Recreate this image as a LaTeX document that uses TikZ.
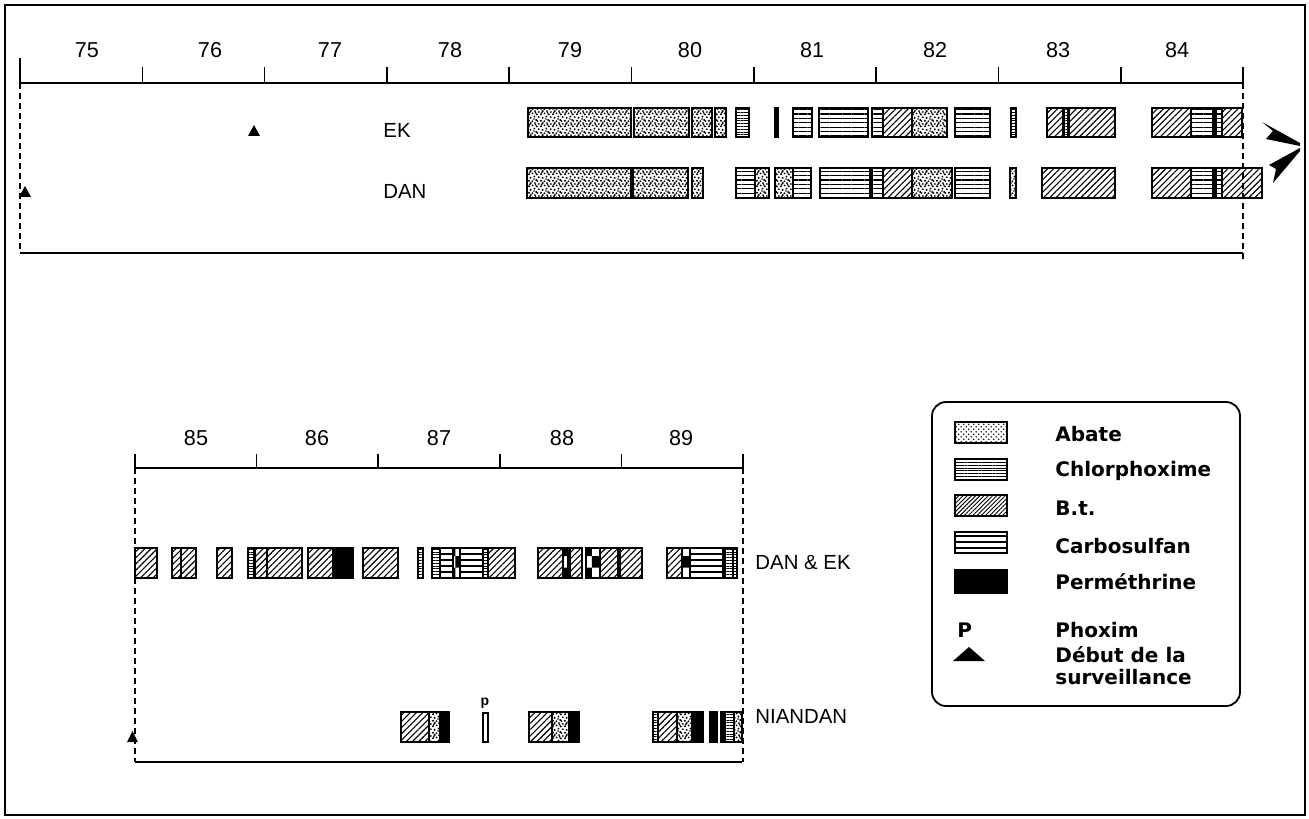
\documentclass[tikz,border=0pt]{standalone}
\usepackage{fontspec}
\setmainfont{Liberation Sans}
\newfontfamily\legfont{DejaVu Sans}
\usetikzlibrary{patterns,patterns.meta}
\pgfdeclarepatternformonly{stipple}{\pgfpoint{-0.5pt}{-0.5pt}}{\pgfpoint{6.5pt}{6.5pt}}{\pgfpoint{6pt}{6pt}}{%
  \pgfpathcircle{\pgfpoint{0.5pt}{0.6pt}}{0.55pt}
  \pgfpathcircle{\pgfpoint{2.2pt}{0.4pt}}{0.5pt}
  \pgfpathcircle{\pgfpoint{4.1pt}{1.0pt}}{0.55pt}
  \pgfpathcircle{\pgfpoint{5.4pt}{2.4pt}}{0.5pt}
  \pgfpathcircle{\pgfpoint{1.3pt}{2.1pt}}{0.55pt}
  \pgfpathcircle{\pgfpoint{3.2pt}{2.7pt}}{0.5pt}
  \pgfpathcircle{\pgfpoint{0.5pt}{3.9pt}}{0.55pt}
  \pgfpathcircle{\pgfpoint{2.3pt}{4.3pt}}{0.5pt}
  \pgfpathcircle{\pgfpoint{4.4pt}{3.8pt}}{0.55pt}
  \pgfpathcircle{\pgfpoint{5.4pt}{5.0pt}}{0.5pt}
  \pgfpathcircle{\pgfpoint{1.4pt}{5.5pt}}{0.55pt}
  \pgfpathcircle{\pgfpoint{3.5pt}{5.4pt}}{0.5pt}
  \pgfpathcircle{\pgfpoint{3.0pt}{1.5pt}}{0.45pt}
  \pgfpathcircle{\pgfpoint{4.8pt}{0.4pt}}{0.45pt}
  \pgfpathcircle{\pgfpoint{0.9pt}{4.8pt}}{0.45pt}
  \pgfpathcircle{\pgfpoint{3.8pt}{4.6pt}}{0.45pt}
  \pgfusepath{fill}}
\pgfdeclarepatternformonly{finedots}{\pgfpoint{-0.5pt}{-0.5pt}}{\pgfpoint{3pt}{3pt}}{\pgfpoint{2.5pt}{2.5pt}}{%
  \pgfpathcircle{\pgfpoint{0.6pt}{0.6pt}}{0.4pt}
  \pgfpathcircle{\pgfpoint{1.85pt}{1.85pt}}{0.4pt}
  \pgfusepath{fill}}
\tikzset{
  barbox/.style={draw, line width=0.7pt},
  abate/.style={barbox, pattern=stipple},
  legabate/.style={barbox, pattern=finedots},
  chlor/.style={barbox, pattern={Lines[angle=0,distance=2.2pt,line width=0.6pt]}},
  dchlor/.style={barbox, pattern={Lines[angle=0,distance=1.4pt,line width=0.45pt]}},
  btpat/.style={barbox, pattern={Lines[angle=45,distance=2.2pt,line width=0.55pt]}},
  legbt/.style={barbox, pattern={Lines[angle=45,distance=1.5pt,line width=0.45pt]}},
  carbo/.style={barbox, pattern={Lines[angle=0,distance=3pt,line width=1.1pt]}},
  perm/.style={barbox, fill=black},
  checker/.style={barbox, pattern=checkerboard},
  axis/.style={line width=0.8pt},
  dashline/.style={line width=0.8pt, dash pattern=on 3pt off 2pt},
  yr/.style={font=\fontsize{10.8}{12}\selectfont, inner sep=0pt},
  lab/.style={font=\fontsize{10.2}{12}\selectfont, inner sep=0pt, anchor=west},
  leg/.style={font=\legfont\fontsize{10}{12}\selectfont\bfseries, inner sep=0pt, anchor=west},
}
\begin{document}
\begin{tikzpicture}[x=0.5pt,y=-0.5pt]
\useasboundingbox (0,0) rectangle (1309,818);
% outer frame
\draw[line width=1.2pt] (5,5) rectangle (1305,815);

% ---------------- top panel ----------------
\draw[axis] (20,83) -- (1243,83);
\draw[axis] (20,58) -- (20,83);
\foreach \k in {1,...,10} \draw[axis] ({20+122.3*\k},67) -- ({20+122.3*\k},83);
\node[yr] (y75) at (87,50) {75};
\node[yr] (y76) at (210,50) {76};
\node[yr] (y77) at (330,50) {77};
\node[yr] (y78) at (450,50) {78};
\node[yr] (y79) at (570,50) {79};
\node[yr] (y80) at (690,50) {80};
\node[yr] (y81) at (812,50) {81};
\node[yr] (y82) at (935,50) {82};
\node[yr] (y83) at (1058,50) {83};
\node[yr] (y84) at (1177,50) {84};
\draw[dashline] (20,83) -- (20,253);
\draw[axis] (20,253) -- (1243,253);
\draw[dashline] (1243,83) -- (1243,262);

\node[lab] (ek) at (383,130) {EK};
\node[lab] (dan) at (383,191) {DAN};
\fill (248,136) -- (260,136) -- (254,125) -- cycle;
\fill (19,197) -- (31,197) -- (25,186) -- cycle;

% EK row
\def\ta{108}\def\tb{137}
\draw[abate] (528,\ta) rectangle (631,\tb);
\draw[abate] (634,\ta) rectangle (689,\tb);
\draw[abate] (692,\ta) rectangle (712,\tb);
\draw[abate] (715,\ta) rectangle (726,\tb);
\draw[dchlor] (736,\ta) rectangle (749,\tb);
\draw[perm] (775,\ta) rectangle (778,\tb);
\draw[chlor] (793,\ta) rectangle (812,\tb);
\draw[chlor] (819,\ta) rectangle (868,\tb);
\draw[chlor] (872,\ta) rectangle (883,\tb);
\draw[btpat] (883,\ta) rectangle (912,\tb);
\draw[abate] (912,\ta) rectangle (947,\tb);
\draw[chlor] (955,\ta) rectangle (990,\tb);
\draw[dchlor] (1011,\ta) rectangle (1016,\tb);
\draw[btpat] (1047,\ta) rectangle (1063,\tb);
\draw[dchlor] (1064,\ta) rectangle (1068,\tb);
\draw[btpat] (1069,\ta) rectangle (1115,\tb);
\draw[btpat] (1152,\ta) rectangle (1191,\tb);
\draw[chlor] (1191,\ta) rectangle (1213,\tb);
\draw[perm] (1213,\ta) rectangle (1216,\tb);
\draw[chlor] (1216,\ta) rectangle (1222,\tb);
\draw[btpat] (1222,\ta) rectangle (1242,\tb);

% DAN row
\def\da{168}\def\db{198}
\draw[abate] (527,\da) rectangle (631,\db);
\draw[abate] (633,\da) rectangle (688,\db);
\draw[abate] (692,\da) rectangle (703,\db);
\draw[chlor] (736,\da) rectangle (755,\db);
\draw[abate] (755,\da) rectangle (769,\db);
\draw[abate] (775,\da) rectangle (793,\db);
\draw[chlor] (793,\da) rectangle (811,\db);
\draw[chlor] (820,\da) rectangle (870,\db);
\draw[chlor] (872,\da) rectangle (883,\db);
\draw[btpat] (883,\da) rectangle (912,\db);
\draw[abate] (912,\da) rectangle (952,\db);
\draw[chlor] (955,\da) rectangle (990,\db);
\draw[abate] (1010,\da) rectangle (1016,\db);
\draw[btpat] (1042,\da) rectangle (1115,\db);
\draw[btpat] (1152,\da) rectangle (1191,\db);
\draw[chlor] (1191,\da) rectangle (1213,\db);
\draw[perm] (1213,\da) rectangle (1216,\db);
\draw[chlor] (1216,\da) rectangle (1222,\db);
\draw[btpat] (1222,\da) rectangle (1262,\db);

% chevron
\fill (1262,122) -- (1300,143) -- (1300,146) -- (1266,139) -- (1273,131) -- cycle;
\fill (1300,148) -- (1300,151) -- (1273,183) -- (1276,169) -- (1269,165) -- cycle;

% ---------------- lower panel ----------------
\draw[axis] (135,468) -- (743,468);
\foreach \k in {0,...,5} \draw[axis] ({135+121.6*\k},454) -- ({135+121.6*\k},468);
\node[yr] (y85) at (196,438) {85};
\node[yr] (y86) at (317,438) {86};
\node[yr] (y87) at (439,438) {87};
\node[yr] (y88) at (562,438) {88};
\node[yr] (y89) at (681,438) {89};
\draw[dashline] (135,468) -- (135,762);
\draw[axis] (135,762) -- (742,762);
\draw[dashline] (743,468) -- (743,762);

\node[lab] (danek) at (755,563) {DAN \& EK};
\node[lab] (niandan) at (755,716) {NIANDAN};
\fill (127,742) -- (138,742) -- (132.5,731) -- cycle;

% DAN & EK row
\def\la{548}\def\lb{578}
\draw[btpat] (135,\la) rectangle (157,\lb);
\draw[btpat] (172,\la) rectangle (181,\lb);
\draw[btpat] (181,\la) rectangle (196,\lb);
\draw[btpat] (217,\la) rectangle (232,\lb);
\draw[dchlor] (248,\la) rectangle (254,\lb);
\draw[btpat] (255,\la) rectangle (267,\lb);
\draw[btpat] (267,\la) rectangle (302,\lb);
\draw[btpat] (308,\la) rectangle (333,\lb);
\draw[perm] (333,\la) rectangle (353,\lb);
\draw[btpat] (363,\la) rectangle (398,\lb);
\draw[dchlor] (418,\la) rectangle (423,\lb);
\draw[dchlor] (432,\la) rectangle (440,\lb);
\draw[carbo] (440,\la) rectangle (453,\lb);
\draw[checker] (453,\la) rectangle (460,\lb);
\draw[carbo] (460,\la) rectangle (483,\lb);
\draw[dchlor] (483,\la) rectangle (488,\lb);
\draw[btpat] (488,\la) rectangle (515,\lb);
\draw[btpat] (538,\la) rectangle (563,\lb);
\draw[checker] (563,\la) rectangle (568,\lb);
\draw[btpat] (570,\la) rectangle (582,\lb);
\draw[checker] (586,\la) rectangle (600,\lb);
\draw[btpat] (600,\la) rectangle (618,\lb);
\draw[btpat] (620,\la) rectangle (642,\lb);
\draw[btpat] (667,\la) rectangle (682,\lb);
\draw[checker] (682,\la) rectangle (690,\lb);
\draw[carbo] (690,\la) rectangle (723,\lb);
\draw[dchlor] (725,\la) rectangle (733,\lb);
\draw[dchlor] (733,\la) rectangle (737,\lb);

% NIANDAN row
\def\na{712}\def\nb{742}
\draw[btpat] (401,\na) rectangle (429,\nb);
\draw[abate] (429,\na) rectangle (440,\nb);
\draw[perm] (440,\na) rectangle (449,\nb);
\draw[barbox] (483,\na+1) rectangle (488,\nb);
\node[font=\fontsize{7}{8}\selectfont\bfseries, inner sep=0pt] (plab) at (485,703) {p};
\draw[btpat] (529,\na) rectangle (552,\nb);
\draw[abate] (552,\na) rectangle (569,\nb);
\draw[perm] (569,\na) rectangle (579,\nb);
\draw[dchlor] (653,\na) rectangle (658,\nb);
\draw[btpat] (658,\na) rectangle (677,\nb);
\draw[abate] (677,\na) rectangle (692,\nb);
\draw[perm] (692,\na) rectangle (703,\nb);
\draw[perm] (710,\na) rectangle (717,\nb);
\draw[perm] (721,\na) rectangle (725,\nb);
\draw[dchlor] (725,\na) rectangle (734,\nb);
\draw[abate] (734,\na) rectangle (742,\nb);

% ---------------- legend ----------------
\draw[line width=0.9pt, rounded corners=7pt] (932,402) rectangle (1240,706);
\draw[legabate] (955,422) rectangle (1007,443);
\node[leg] (lA) at (1055,434) {Abate};
\draw[dchlor] (955,459) rectangle (1007,480);
\node[leg] (lC) at (1055,471) {Chlorphoxime};
\draw[legbt] (955,495) rectangle (1007,516);
\node[leg] (lB) at (1055,508) {B.t.};
\draw[carbo] (955,532) rectangle (1007,553);
\node[leg] (lS) at (1055,546) {Carbosulfan};
\draw[perm] (955,570) rectangle (1007,593);
\node[leg] (lP) at (1055,582) {Perméthrine};
\node[leg] (lPl) at (957,630) {P};
\node[leg] (lX) at (1055,630) {Phoxim};
\fill (953,661) -- (985,661) -- (969,647) -- cycle;
\node[leg] (lD1) at (1055,655) {Début de la};
\node[leg] (lD2) at (1055,677) {surveillance};
\end{tikzpicture}
\end{document}
